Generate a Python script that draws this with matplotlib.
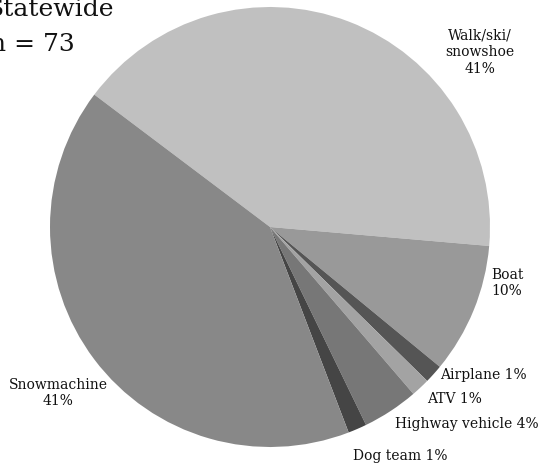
import matplotlib
matplotlib.use("Agg")
import matplotlib.pyplot as plt

categories = ["Walk/ski/\nsnowshoe", "Boat", "Airplane", "ATV", "Highway vehicle", "Dog team", "Snowmachine"]
counts = [30, 7, 1, 1, 3, 1, 30]
pct_labels = ["41%", "10%", "1%", "1%", "4%", "1%", "41%"]
colors = ["#c0c0c0", "#999999", "#555555", "#a3a3a3", "#777777", "#454545", "#888888"]
title_lines = ["Statewide", "n = 73"]

W, H = 542, 468
fig = plt.figure(figsize=(W / 100, H / 100), dpi=100)
cx, cy, r = 270, 227, 220
ax = fig.add_axes([(cx - r) / W, (H - cy - r) / H, 2 * r / W, 2 * r / H])
ax.pie(counts, colors=colors, startangle=143, counterclock=False,
       radius=1, wedgeprops=dict(linewidth=0))
ax.set_xlim(-1, 1)
ax.set_ylim(-1, 1)
ax.set_aspect("equal")
ax.axis("off")

font = "DejaVu Serif"
fs = 10

def ftext(px, py, s, ha="center", va="center", size=fs):
    fig.text(px / W, 1 - py / H, s, ha=ha, va=va, fontsize=size, family=font,
             color="#111111", linespacing=1.25)

# slice labels (layout positions)
label_pos = [(480, 52, "center"), (507, 283, "center"), (483, 375, "center"),
             (455, 399, "center"), (467, 424, "center"), (400, 456, "center"),
             (58, 393, "center")]
for (px, py, ha), cat, p in zip(label_pos, categories, pct_labels):
    if cat in ("Walk/ski/\nsnowshoe", "Boat", "Snowmachine"):
        s = f"{cat}\n{p}"
    else:
        s = f"{cat} {p}"
    ftext(px, py, s, ha=ha)

# title (partly cut at the left edge, as in the reference)
fig.text(-13 / W, 1 - 16 / H, title_lines[0], ha="left", va="baseline",
         fontsize=18, family=font, color="#111111")
fig.text(-10 / W, 1 - 51 / H, title_lines[1], ha="left", va="baseline",
         fontsize=18, family=font, color="#111111")

fig.savefig("out.png", dpi=100)
